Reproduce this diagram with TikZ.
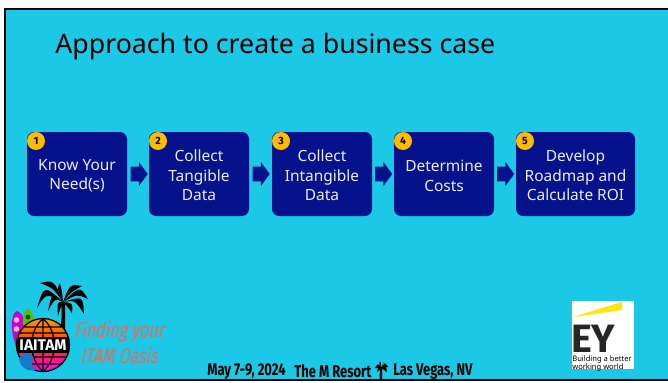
\documentclass[tikz,border=0pt]{standalone}
\usepackage{fontspec}
\setmainfont{Noto Sans}
\newfontfamily\footfont[FakeStretch=0.76]{Fira Sans Bold}
\newfontfamily\heavyfont{Fira Sans Bold}
\newfontfamily\oasisfont[FakeStretch=0.76,FakeSlant=0.2]{Fira Sans}
\usetikzlibrary{shapes.arrows,shadings}
\definecolor{slidecyan}{HTML}{1BC8E6}
\definecolor{stepnavy}{HTML}{06128C}
\definecolor{badgeamber}{HTML}{FFBB00}
\definecolor{oasisred}{HTML}{E8685A}
\newcommand{\steplift}{\rule{0pt}{8.4pt}}
\tikzset{my step/.style={draw=none, fill=stepnavy, rounded corners=4pt, text=white!92!stepnavy, align=center, font=\fontsize{8.8}{11.1}\selectfont, inner sep=0pt, minimum height=84*0.02cm},
my badge/.style={circle, fill=badgeamber, inner sep=0pt, minimum size=18*0.02cm, font=\heavyfont\fontsize{6}{6}\selectfont},
my arrow/.style={single arrow, fill=stepnavy, draw=none, inner xsep=0pt, inner ysep=7*0.02cm, minimum width=23*0.02cm, minimum height=17*0.02cm, single arrow head extend=4.5*0.02cm, single arrow tip angle=107},
my foot/.style={inner sep=0pt, anchor=west, font=\footfont\fontsize{9.7}{11}\selectfont},
my oasis/.style={text=oasisred, inner sep=0pt, font=\oasisfont\fontsize{12}{13}\selectfont},}

\begin{document}
\begin{tikzpicture}[x=0.02cm,y=-0.02cm]
\useasboundingbox (0,0) rectangle (668,382);
\fill [white] (0,0) rectangle (668,382);
\filldraw [fill=slidecyan, draw=black, line width=2.2*0.02cm] (5,9) -- (672,9) -- (672,380) -- (5,380) -- cycle;
\node (title) [anchor=west, inner sep=0pt, font=\fontsize{15.2}{18}\selectfont] at (55,46.5) {Approach to create a business case};
\node (step1) [my step, minimum width=100*0.02cm] at ( 77,174) {\steplift Know Your\\Need(s)};
\node (step2) [my step, minimum width=100*0.02cm] at (199,174) {\steplift Collect\\Tangible\\Data};
\node (step3) [my step, minimum width=100*0.02cm] at (322,174) {\steplift Collect\\Intangible\\Data};
\node (step4) [my step, minimum width=100*0.02cm] at (444,174) {\steplift Determine\\Costs};
\node (step5) [my step, minimum width=119*0.02cm] at (575.5,174) {\steplift Develop\\Roadmap and\\Calculate ROI};
\node (badge1) [my badge] at (36,141) {1};
\node (badge2) [my badge] at (158,141) {2};
\node (badge3) [my badge] at (281,141) {3};
\node (badge4) [my badge] at (403,141) {4};
\node (badge5) [my badge] at (525,141) {5};
\node (arrow1) [my arrow] at (136.5,174) {};
\node (arrow2) [my arrow] at (258.5,174) {};
\node (arrow3) [my arrow] at (381,174) {};
\node (arrow4) [my arrow] at (503,174) {};
\fill [violet!40!magenta] (18,352) .. controls (9,330) and (11,313) .. (17,311) .. controls (24,313) and (27,325) .. (25,345) -- cycle;
\fill [white!70!magenta] (16.5,320) circle [radius=2.8] (16.5,329) circle [radius=2.8];
\fill [green!55!yellow!75!black] (23,325) .. controls (22,315) and (25,310) .. (28,308) .. controls (32,311) and (35,318) .. (34,325) -- cycle;
\fill [green!30!black] (28,317) circle [radius=2.4];
\fill [black] (61,302) -- (65,302) .. controls (65,312) and (65,320) .. (65,330) -- (60,330) .. controls (62,320) and (62,312) .. (61,302) -- cycle;
\foreach \cax/\cay/\cbx/\cby/\tipx/\tipy in {54/280/53/288/40/283, 44/285/46/293/37/308, 52/292/55/298/48/311, 57/302/61/306/58/316, 57/288/62/291/60/283, 70/284/71/292/82/286, 80/286/77/294/88/299, 83/296/75/300/84/314, 73/303/67/306/72/313}
  \fill [black] (63,302) .. controls (\cax,\cay) .. (\tipx,\tipy) .. controls (\cbx,\cby) .. (63,302) -- cycle;
\shade [top color=orange!80!yellow, bottom color=magenta, middle color=red!60!orange] (43,345) circle [radius=26.5];
\draw [black, line width=1.3*0.02cm] (43,345) circle [radius=26.5] (43,319) -- (43,371) (43,319) .. controls (28,330) and (28,360) .. (43,371) (43,319) .. controls (58,330) and (58,360) .. (43,371) (19,333) -- (67,333) (19,357) -- (67,357) (24,327) -- (62,327) (24,364) -- (62,364);
\fill [cyan!60!blue] (19,358) .. controls (24,352) and (31,352) .. (34,358) .. controls (30,358) and (30,364) .. (36,370) .. controls (28,372) and (20,368) .. (19,358) -- cycle;
\fill [black] (17,337) rectangle (69,353);
\node (iaitam) [inner sep=0pt, text=white, font=\heavyfont\fontsize{8.8}{9}\selectfont] at (43,345) {IAITAM};
\node (finding) [my oasis] at (119,332) {Finding your};
\node (oasis) [my oasis] at (119,355) {ITAM Oasis};
\node (dates) [my foot] at (207,371) {May 7-9, 2024};
\node (resort) [my foot] at (294,371) {The M Resort};
\node (vegas) [my foot] at (393,371) {Las Vegas, NV};
\fill [black] (380,368) -- (382,368) -- (382,380) -- (379.5,380) -- cycle;
\foreach \cax/\cay/\tipx/\tipy in {378/363/375/368, 379/364/377/372, 381/361/379/363, 385/362/388/367, 386/365/387/372, 383/364/384/362}
  \fill [black] (381,368) .. controls (\cax,\cay) .. (\tipx,\tipy) -- cycle;
\fill [white] (572,301) rectangle (634,369);
\fill [yellow!90!orange] (573,317) -- (622,302) -- (622,310) -- cycle;
\node (eylogo) [anchor=base west, inner sep=0pt, text depth=0pt, text=black!85, font=\heavyfont\fontsize{22.5}{23}\selectfont] at (571,352) {EY};
\node (eytag) [inner sep=0pt, anchor=north west, align=left, font=\fontsize{4.3}{4.6}\selectfont] at (572,355.5) {Building a better\\working world};
\end{tikzpicture}
\end{document}
